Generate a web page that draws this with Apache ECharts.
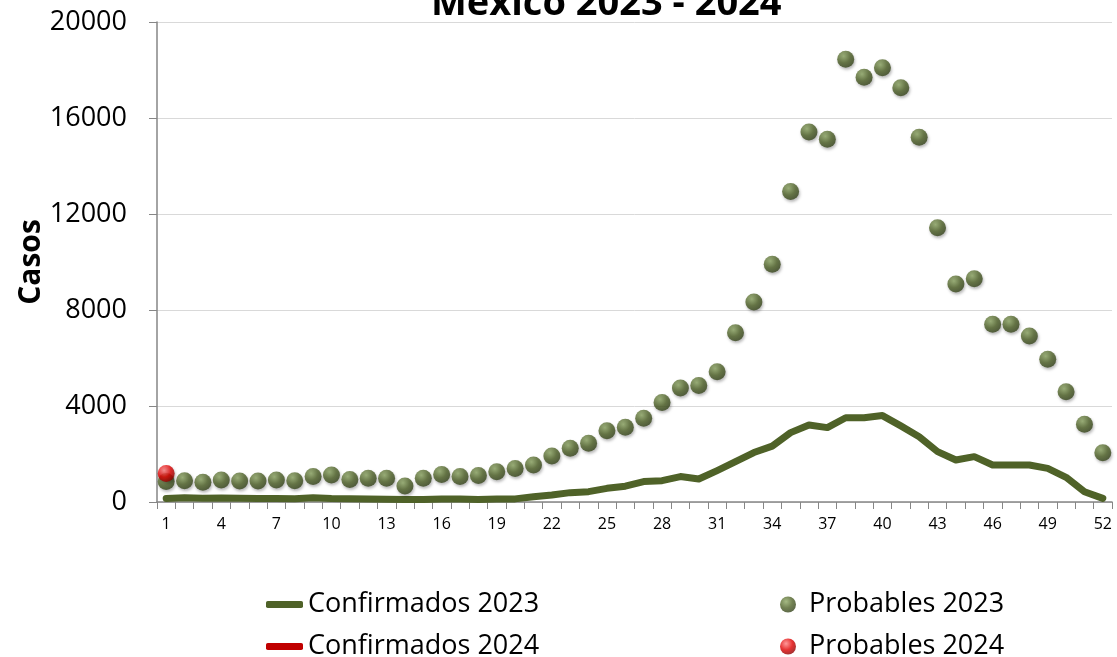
<!DOCTYPE html>
<html>
<head>
<meta charset="utf-8">
<script src="https://cdn.jsdelivr.net/npm/echarts@6/dist/echarts.min.js"></script>
<style>
html,body{margin:0;padding:0;background:#fff;}
#chart{width:1117px;height:657px;}
</style>
</head>
<body>
<div id="chart"></div>
<script>
// ---- data ----
const weeks = Array.from({length: 52}, (_, i) => String(i + 1));
const confirmados2023 = [150,180,160,170,160,150,150,140,180,150,140,120,110,100,100,130,120,100,120,130,
  220,290,390,430,570,660,850,890,1060,960,1310,1680,2060,2330,2890,3210,3100,3510,3510,3600,
  3170,2720,2100,1750,1890,1540,1540,1540,1400,1030,430,150];
const confirmados2024 = [60];
const probables2023 = [850,890,820,920,875,875,920,890,1060,1125,940,990,990,670,990,1150,1060,1100,1260,1400,
  1540,1920,2240,2450,2970,3110,3490,4150,4750,4850,5430,7050,8330,9910,12940,15420,15115,18450,17700,18090,
  17260,15200,11430,9080,9300,7405,7405,6920,5950,4590,3240,2050];
const probables2024 = [1190];
const yTicks = {min: 0, max: 20000, interval: 4000};

const FONT = 'Open Sans';
function sphere(light, mid, dark) {
  return {type: 'radial', x: 0.38, y: 0.32, r: 0.72,
    colorStops: [{offset: 0, color: light}, {offset: 0.55, color: mid}, {offset: 1, color: dark}]};
}
const green = '#4f6228';
const red = '#c00000';

function lineLegend(name, top) {
  return {data: [name], orient: 'horizontal', left: 266, top: top, padding: 0,
    itemWidth: 37, itemHeight: 7, icon: 'roundRect',
    textStyle: {fontFamily: FONT, fontSize: 27, lineHeight: 27, color: '#000'}};
}
function dotLegend(name, top) {
  return {data: [name], orient: 'horizontal', left: 780, top: top, padding: 0,
    itemWidth: 16, itemHeight: 16, icon: 'circle',
    textStyle: {fontFamily: FONT, fontSize: 27, lineHeight: 27, color: '#000', padding: [0, 0, 0, 8]}};
}

const chart = echarts.init(document.getElementById('chart'), null, {renderer: 'canvas'});
chart.setOption({
  backgroundColor: '#ffffff',
  animation: false,
  title: {
    text: 'México 2023 - 2024',
    left: 431, top: -15, padding: 0,
    textStyle: {fontFamily: FONT, fontWeight: 'bold', fontSize: 38, lineHeight: 38, color: '#000'}
  },
  grid: {left: 157, right: 5, top: 22, bottom: 155, containLabel: false, outerBoundsMode: 'none'},
  legend: [
    lineLegend('Confirmados 2023', 591),
    lineLegend('Confirmados 2024', 633),
    dotLegend('Probables 2023', 591),
    dotLegend('Probables 2024', 633)
  ],
  xAxis: {
    type: 'category',
    data: weeks,
    boundaryGap: true,
    axisLine: {lineStyle: {color: '#868686', width: 1.5}},
    axisTick: {show: true, interval: 0, length: 7, lineStyle: {color: '#868686'}},
    axisLabel: {interval: 2, margin: 14, fontFamily: FONT, fontSize: 16, color: '#000'},
    splitLine: {show: false}
  },
  yAxis: {
    type: 'value',
    min: yTicks.min, max: yTicks.max, interval: yTicks.interval,
    name: 'Casos', nameLocation: 'middle', nameRotate: 90, nameGap: 111, nameMoveOverlap: false,
    nameTextStyle: {fontFamily: FONT, fontWeight: 'bold', fontSize: 30, color: '#000'},
    axisLine: {show: true, lineStyle: {color: '#868686', width: 1.5}},
    axisTick: {show: true, length: 8, lineStyle: {color: '#868686'}},
    axisLabel: {margin: 30, fontFamily: FONT, fontSize: 27, color: '#000',
      formatter: function (v) { return String(v); }},
    splitLine: {show: true, lineStyle: {color: '#d9d9d9', width: 1}}
  },
  series: [
    {
      name: 'Confirmados 2023', type: 'line', data: confirmados2023,
      showSymbol: false, symbol: 'none', z: 2,
      lineStyle: {color: green, width: 7, cap: 'round', join: 'round'},
      itemStyle: {color: green}
    },
    {
      name: 'Confirmados 2024', type: 'line', data: confirmados2024,
      showSymbol: false, symbol: 'none', z: 2,
      lineStyle: {color: red, width: 7, cap: 'round', join: 'round'},
      itemStyle: {color: red}
    },
    {
      name: 'Probables 2023', type: 'scatter', data: probables2023,
      symbol: 'circle', symbolSize: 17, z: 3,
      itemStyle: {color: sphere('#8fa865', '#4f6228', '#34421a'),
        shadowBlur: 3, shadowOffsetX: 1, shadowOffsetY: 2, shadowColor: 'rgba(0,0,0,0.35)'}
    },
    {
      name: 'Probables 2024', type: 'scatter', data: probables2024,
      symbol: 'circle', symbolSize: 17, z: 4,
      itemStyle: {color: sphere('#ff8080', '#e00000', '#8a0000'),
        shadowBlur: 3, shadowOffsetX: 1, shadowOffsetY: 2, shadowColor: 'rgba(0,0,0,0.35)'}
    }
  ]
});
</script>
</body>
</html>
